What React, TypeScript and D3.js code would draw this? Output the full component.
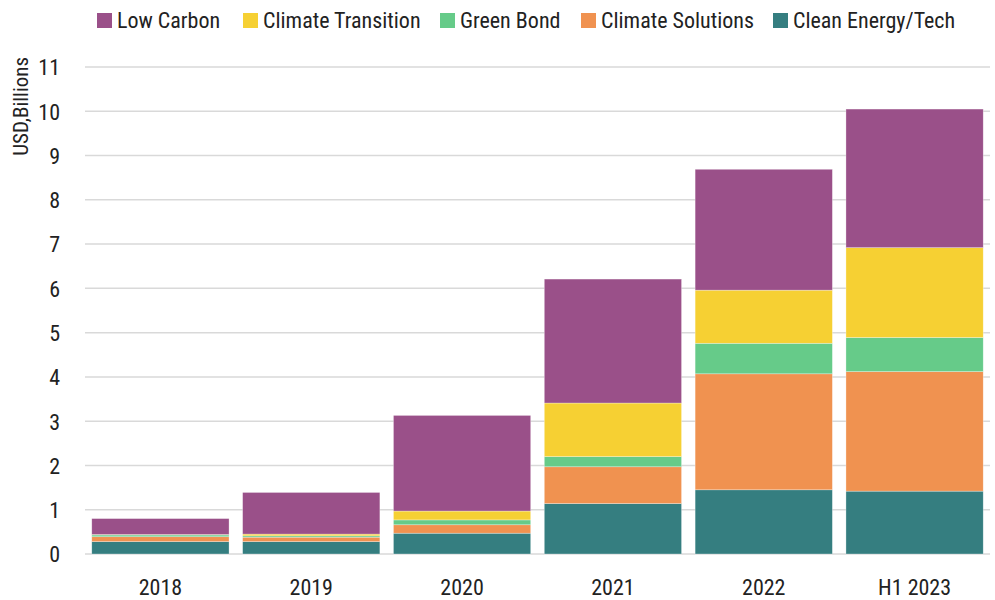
import React from "react";
import * as d3 from "d3";

const categories = ["2018", "2019", "2020", "2021", "2022", "H1 2023"];
const cleanEnergy = [0.28, 0.28, 0.47, 1.14, 1.45, 1.42];
const climateSolutions = [0.11, 0.1, 0.19, 0.83, 2.62, 2.7];
const greenBond = [0.04, 0.03, 0.11, 0.23, 0.69, 0.77];
const climateTransition = [0.01, 0.04, 0.2, 1.21, 1.2, 2.03];
const lowCarbon = [0.36, 0.94, 2.16, 2.8, 2.73, 3.13];
const yTicks = [0, 1, 2, 3, 4, 5, 6, 7, 8, 9, 10, 11];

const seriesKeys = ["Clean Energy/Tech", "Climate Solutions", "Green Bond", "Climate Transition", "Low Carbon"];
const seriesValues = [cleanEnergy, climateSolutions, greenBond, climateTransition, lowCarbon];
const colors: Record<string, string> = {
  "Low Carbon": "#9A5089",
  "Climate Transition": "#F6D033",
  "Green Bond": "#66CB89",
  "Climate Solutions": "#F09250",
  "Clean Energy/Tech": "#357E80",
};
const legendOrder = ["Low Carbon", "Climate Transition", "Green Bond", "Climate Solutions", "Clean Energy/Tech"];
const legendX = [97, 243, 440, 581, 773];

const FONT = "'Liberation Sans Narrow', 'Arial Narrow', 'Roboto Condensed', sans-serif";

export default function App() {
  const W = 995, H = 600;
  const left = 85, right = 990, top = 67, bottom = 554;
  const x = d3.scaleBand().domain(categories).range([left, right]).paddingInner(0.09).paddingOuter(0.045);
  const y = d3.scaleLinear().domain([0, 11]).range([bottom, top]);

  const table = categories.map((c, i) => {
    const row: Record<string, any> = { cat: c };
    seriesKeys.forEach((k, j) => (row[k] = seriesValues[j][i]));
    return row;
  });
  const stacked = d3.stack().keys(seriesKeys)(table as any);

  return (
    <svg width={W} height={H} style={{ position: "absolute", left: 0, top: 0, background: "#fff" }} fontFamily={FONT}>
      {yTicks.map((t) => (
        <g key={t}>
          <line x1={left} x2={right} y1={y(t)} y2={y(t)} stroke="#d9d9d9" strokeWidth={1.5} />
          <text x={60} y={y(t)} dy="0.38em" textAnchor="end" fontSize={22} fill="#222">
            {t}
          </text>
        </g>
      ))}
      {stacked.map((s) => (
        <g key={s.key} fill={colors[s.key]}>
          {s.map((d, i) => (
            <rect
              key={i}
              x={x(categories[i])}
              width={x.bandwidth()}
              y={y(d[1])}
              height={Math.max(0, y(d[0]) - y(d[1]))}
              stroke="#ffffff"
              strokeOpacity={0.5}
              strokeWidth={0.6}
            />
          ))}
        </g>
      ))}
      {categories.map((c) => (
        <text key={c} x={(x(c) as number) + x.bandwidth() / 2} y={595} textAnchor="middle" fontSize={22} fill="#222">
          {c}
        </text>
      ))}
      <text transform="translate(28,57) rotate(-90)" textAnchor="end" fontSize={21} fill="#222">
        USD,Billions
      </text>
      {legendOrder.map((k, i) => (
        <g key={k} transform={`translate(${legendX[i]},13)`}>
          <rect width={15} height={15} fill={colors[k]} />
          <text x={20} y={15} fontSize={22} fill="#222">
            {k}
          </text>
        </g>
      ))}
    </svg>
  );
}
